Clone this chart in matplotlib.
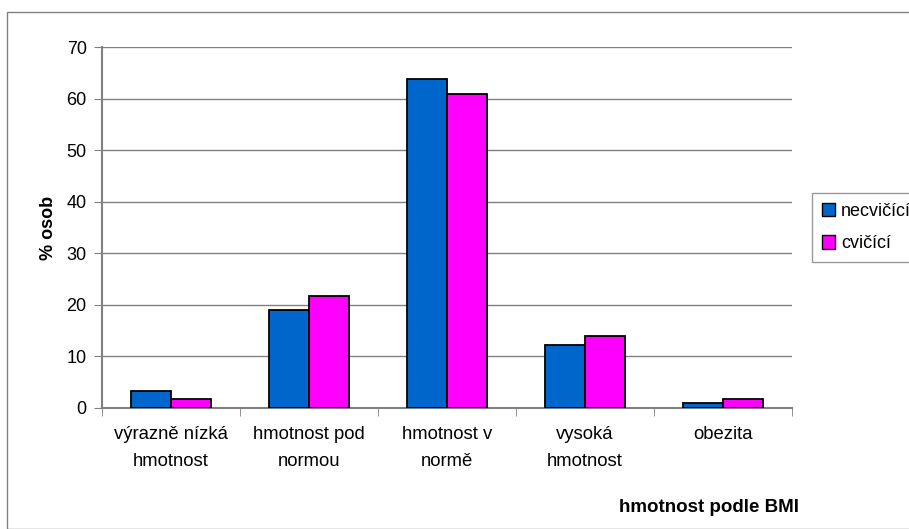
import numpy as np
import matplotlib
matplotlib.use("Agg")
import matplotlib.pyplot as plt
from matplotlib.patches import Rectangle, Patch

plt.rcParams['font.family'] = ['Liberation Sans', 'DejaVu Sans']

categories = ["výrazně nízká\nhmotnost", "hmotnost pod\nnormou", "hmotnost v\nnormě",
              "vysoká\nhmotnost", "obezita"]
necvicici = [3.3, 19.0, 63.8, 12.2, 1.0]
cvicici = [1.7, 21.7, 60.8, 13.9, 1.7]
series_names = ["necvičící", "cvičící"]

W, H = 909, 529
fig = plt.figure(figsize=(W / 100, H / 100), dpi=100)
# outer chart frame
fig.patches.append(Rectangle((7 / W, 0), 1, 1 - 12 / H, transform=fig.transFigure,
                             fill=False, edgecolor='#808080', lw=1))

ax = fig.add_axes([102 / W, 1 - 408 / H, 690 / W, 361 / H])

x = np.arange(len(categories))
bw = 0.293
ax.bar(x - bw / 2, necvicici, bw, color='#0066cc', edgecolor='black', lw=1.3, zorder=3)
ax.bar(x + bw / 2, cvicici, bw, color='#ff00ff', edgecolor='black', lw=1.3, zorder=3)

ax.set_xlim(-0.5, len(categories) - 0.5)
ax.set_ylim(0, 70)
ax.set_yticks(range(0, 71, 10))
ax.yaxis.grid(True, color='#808080', lw=1)
ax.set_axisbelow(True)

ax.set_xticks(x)
ax.set_xticklabels(categories, fontsize=13.3, linespacing=1.8)
ax.set_xticks(np.arange(-0.5, len(categories)), minor=True)
ax.tick_params(axis='x', which='major', length=0, pad=13)
ax.tick_params(axis='x', which='minor', length=6, color='#808080', direction='out')
ax.tick_params(axis='y', labelsize=13, length=6, color='#808080', direction='out', pad=5)

for s in ['top', 'right']:
    ax.spines[s].set_visible(False)
ax.spines['left'].set_color('#808080')
ax.spines['bottom'].set_color('#808080')
ax.spines['left'].set_linewidth(1.5)
ax.spines['bottom'].set_linewidth(1.5)

ax.set_ylabel("% osob", fontsize=13, fontweight='bold', labelpad=7)
fig.text(709 / W, 1 - 508 / H, "hmotnost podle BMI", fontsize=13.5, fontweight='bold',
         ha='center', va='center')

handles = [Patch(facecolor='#0066cc', edgecolor='black'),
           Patch(facecolor='#ff00ff', edgecolor='black')]
leg = fig.legend(handles, series_names, loc='upper left',
                 bbox_to_anchor=(812 / W, 1 - 193 / H), fontsize=13,
                 frameon=True, fancybox=False, handlelength=0.75, handleheight=0.75,
                 handletextpad=0.3, borderpad=0.55, labelspacing=0.85, borderaxespad=0)
leg.get_frame().set_edgecolor('#808080')
leg.get_frame().set_linewidth(1)

fig.savefig("out.png", dpi=100)
